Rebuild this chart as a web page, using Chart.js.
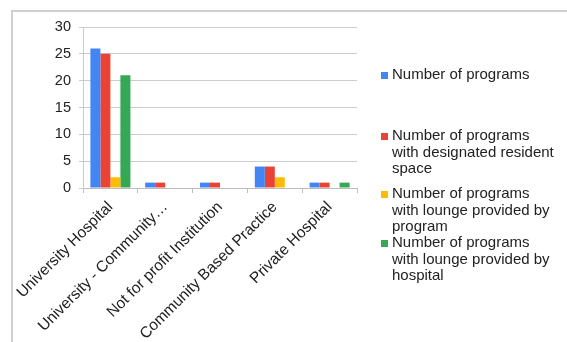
<!DOCTYPE html>
<html>
<head>
<meta charset="utf-8">
<script src="https://cdn.jsdelivr.net/npm/chart.js@4/dist/chart.umd.min.js"></script>
<style>
  html, body { margin: 0; padding: 0; background: #fff; }
  #wrap { width: 567px; height: 342px; position: relative; }
</style>
</head>
<body>
<div id="wrap"><canvas id="programChart" width="567" height="342"></canvas></div>
<script>
const categories = [
    'University Hospital',
    'University - Community\u2026',
    'Not for profit Institution',
    'Community Based Practice',
    'Private Hospital'
];
const seriesNames = [
    'Number of programs',
    'Number of programs with designated resident space',
    'Number of programs with lounge provided by program',
    'Number of programs with lounge provided by hospital'
];
// wrapped legend text, one array per series
const legendLines = [
    ['Number of programs'],
    ['Number of programs', 'with designated resident', 'space'],
    ['Number of programs', 'with lounge provided by', 'program'],
    ['Number of programs', 'with lounge provided by', 'hospital']
];
const totalPrograms = [26, 1, 1, 4, 1];
const residentSpace = [25, 1, 1, 4, 1];
const loungeByProgram = [2, 0, 0, 2, 0];
const loungeByHospital = [21, 0, 0, 0, 1];
const yTicks = [0, 5, 10, 15, 20, 25, 30];

const colors = ['#4285F4', '#EA4335', '#FBBC04', '#34A853'];
const font = 'Liberation Sans, Arial, sans-serif';
const seriesValues = [totalPrograms, residentSpace, loungeByProgram, loungeByHospital];

// grey frame along the top and left edge
const framePlugin = {
    id: 'frame',
    beforeDraw(chart) {
        const ctx = chart.ctx;
        ctx.save();
        ctx.fillStyle = '#fff';
        ctx.fillRect(0, 0, chart.width, chart.height);
        ctx.strokeStyle = '#cfcfcf';
        ctx.lineWidth = 2;
        ctx.beginPath();
        ctx.moveTo(12, chart.height);
        ctx.lineTo(12, 11);
        ctx.lineTo(chart.width, 11);
        ctx.stroke();
        ctx.restore();
    }
};

// legend on the right with wrapped labels
const sideLegend = {
    id: 'sideLegend',
    afterDraw(chart) {
        const ctx = chart.ctx;
        const x = chart.chartArea.right + 24;
        const entryY = [75, 136, 194, 243];
        const lineH = 16.5;
        ctx.save();
        ctx.font = '15px ' + font;
        ctx.textBaseline = 'middle';
        ctx.textAlign = 'left';
        chart.data.datasets.forEach(function(ds, i) {
            ctx.fillStyle = ds.backgroundColor;
            ctx.fillRect(x, entryY[i] - 3, 7, 7);
            ctx.fillStyle = '#222';
            legendLines[i].forEach(function(line, j) {
                ctx.fillText(line, x + 11, entryY[i] + j * lineH);
            });
        });
        ctx.restore();
    }
};

new Chart(document.getElementById('programChart').getContext('2d'), {
    type: 'bar',
    data: {
        labels: categories,
        datasets: seriesNames.map((name, i) => ({
            label: name,
            data: seriesValues[i],
            backgroundColor: colors[i],
            barPercentage: 1,
            categoryPercentage: 0.73
        }))
    },
    options: {
        responsive: false,
        animation: false,
        layout: { padding: { left: 13, right: 210, top: 27, bottom: 0 } },
        plugins: {
            legend: { display: false },
            tooltip: { enabled: false }
        },
        scales: {
            x: {
                afterFit: s => { s.height = 154; },
                grid: {
                    drawOnChartArea: false,
                    offset: true,
                    tickLength: 5,
                    color: '#bdbdbd'
                },
                border: { color: '#bdbdbd' },
                ticks: {
                    autoSkip: false,
                    minRotation: 45,
                    maxRotation: 45,
                    padding: 5,
                    color: '#222',
                    font: { family: font, size: 15.5 }
                }
            },
            y: {
                min: 0,
                max: 30,
                afterFit: s => { s.width = 70; },
                afterBuildTicks: s => { s.ticks = yTicks.map(v => ({ value: v })); },
                grid: { color: '#cccccc', tickLength: 4 },
                border: { color: '#cccccc' },
                ticks: {
                    padding: 8,
                    color: '#222',
                    font: { family: font, size: 14.5 }
                }
            }
        }
    },
    plugins: [framePlugin, sideLegend]
});
</script>
</body>
</html>
